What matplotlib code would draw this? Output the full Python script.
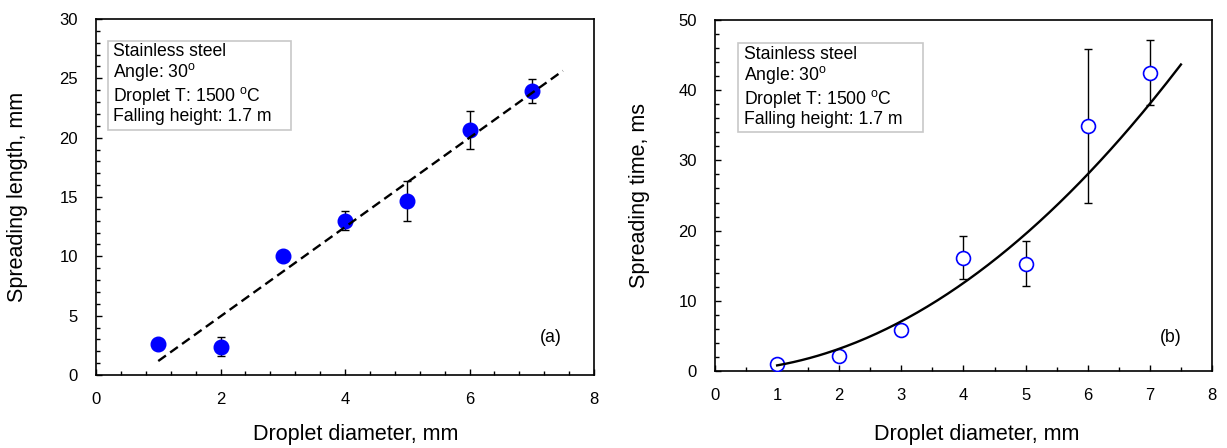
import numpy as np
import matplotlib
matplotlib.use("Agg")
import matplotlib.pyplot as plt
from matplotlib.patches import Rectangle
from matplotlib.ticker import MultipleLocator

# ---- data ----
diam = [1, 2, 3, 4, 5, 6, 7]
spread_len = [2.58, 2.39, 10.0, 13.0, 14.66, 20.67, 23.96]
spread_len_err = [0.0, 0.8, 0.0, 0.8, 1.7, 1.6, 1.0]
spread_time = [0.95, 2.18, 5.79, 16.14, 15.29, 34.9, 42.5]
spread_time_err = [0.0, 0.0, 0.0, 3.1, 3.2, 11.0, 4.6]
# power-law trendline (y = a * x^b)
time_fit_a = 0.80
time_fit_b = 1.985
fit_range = [1.0, 7.5]

box_lines = ["Stainless steel", r"Angle: 30$^{\mathrm{o}}$",
             r"Droplet T: 1500 $^{\mathrm{o}}$C", "Falling height: 1.7 m"]

plt.rcParams['font.family'] = ['Liberation Sans', 'DejaVu Sans']
plt.rcParams['mathtext.fontset'] = 'custom'
plt.rcParams['mathtext.rm'] = 'Liberation Sans'
plt.rcParams['mathtext.it'] = 'Liberation Sans:italic'
plt.rcParams['mathtext.bf'] = 'Liberation Sans:bold'

W, H = 1227, 448
fig = plt.figure(figsize=(W / 100, H / 100), dpi=100)

def px_axes(l, r, t, b):
    return fig.add_axes([l / W, 1 - b / H, (r - l) / W, (b - t) / H])

axA = px_axes(96, 594, 19, 375)
axB = px_axes(715, 1212, 20, 371)

def style(ax, xmaj, xmin, ymaj, ymin, xmax, ymax):
    ax.set_xlim(0, xmax)
    ax.set_ylim(0, ymax)
    ax.xaxis.set_major_locator(MultipleLocator(xmaj))
    ax.xaxis.set_minor_locator(MultipleLocator(xmin))
    ax.yaxis.set_major_locator(MultipleLocator(ymaj))
    ax.yaxis.set_minor_locator(MultipleLocator(ymin))
    ax.tick_params(which='both', direction='in', top=False, right=False,
                   labelsize=12, width=1.0, color='black')
    ax.tick_params(which='major', length=4.5)
    ax.tick_params(which='minor', length=3)
    ax.tick_params(axis='y', which='major', pad=13)
    ax.tick_params(axis='x', which='major', pad=12)
    for s in ax.spines.values():
        s.set_linewidth(1.2)
        s.set_color('black')

style(axA, 2, 0.4, 5, 1, 8, 30)
style(axB, 1, 0.5, 10, 2, 8, 50)

# (a) spreading length
axA.errorbar(diam, spread_len, yerr=spread_len_err, fmt='none', ecolor='black',
             elinewidth=1.0, capsize=2.8, capthick=1.0, zorder=2)
axA.plot(diam, spread_len, 'o', color='#0000FF', markersize=10.5, zorder=3)
k = np.polyfit(diam, spread_len, 1)
xf = np.array(fit_range)
axA.plot(xf, np.polyval(k, xf), color='black', lw=1.7, ls=(0, (4, 2.2)), zorder=4)

# (b) spreading time
axB.errorbar(diam, spread_time, yerr=spread_time_err, fmt='none', ecolor='black',
             elinewidth=1.0, capsize=2.8, capthick=1.0, zorder=2)
axB.plot(diam, spread_time, 'o', mfc='white', mec='#0000FF', mew=1.2,
         markersize=10, zorder=3)
xc = np.linspace(fit_range[0], fit_range[1], 200)
axB.plot(xc, time_fit_a * xc ** time_fit_b, color='black', lw=1.7, zorder=4)

axA.set_ylabel("Spreading length, mm", fontsize=15.5)
axB.set_ylabel("Spreading time, ms", fontsize=15.5)
axA.set_xlabel("Droplet diameter, mm", fontsize=15.5)
axB.set_xlabel("Droplet diameter, mm", fontsize=15.5)
axA.yaxis.set_label_coords(-0.1366, 0.5)
axB.yaxis.set_label_coords(-0.131, 0.5)
axA.xaxis.set_label_coords(0.521, -0.137)
axB.xaxis.set_label_coords(0.526, -0.151)

def info_box(ax, l, r, t, b, tx, ty, axl, axr, axt, axb):
    fx = lambda p: (p - axl) / (axr - axl)
    fy = lambda p: (axb - p) / (axb - axt)
    ax.add_patch(Rectangle((fx(l), fy(b)), fx(r) - fx(l), fy(t) - fy(b),
                           transform=ax.transAxes, facecolor='white',
                           edgecolor='#c8c8c8', lw=1.2, zorder=5))
    ax.text(fx(tx), fy(ty), "\n".join(box_lines), transform=ax.transAxes,
            ha='left', va='top', fontsize=12.7, linespacing=1.08, zorder=6)

info_box(axA, 108, 291, 41, 130, 113, 43, 96, 594, 19, 375)
info_box(axB, 738, 923, 43, 132, 744, 46, 715, 1212, 20, 371)

axA.text((551 - 96) / 498, (375 - 338) / 356, "(a)", transform=axA.transAxes,
         ha='center', va='center', fontsize=12.7)
axB.text((1171 - 715) / 497, (371 - 338) / 351, "(b)", transform=axB.transAxes,
         ha='center', va='center', fontsize=12.7)

fig.savefig("out.png", dpi=100)
